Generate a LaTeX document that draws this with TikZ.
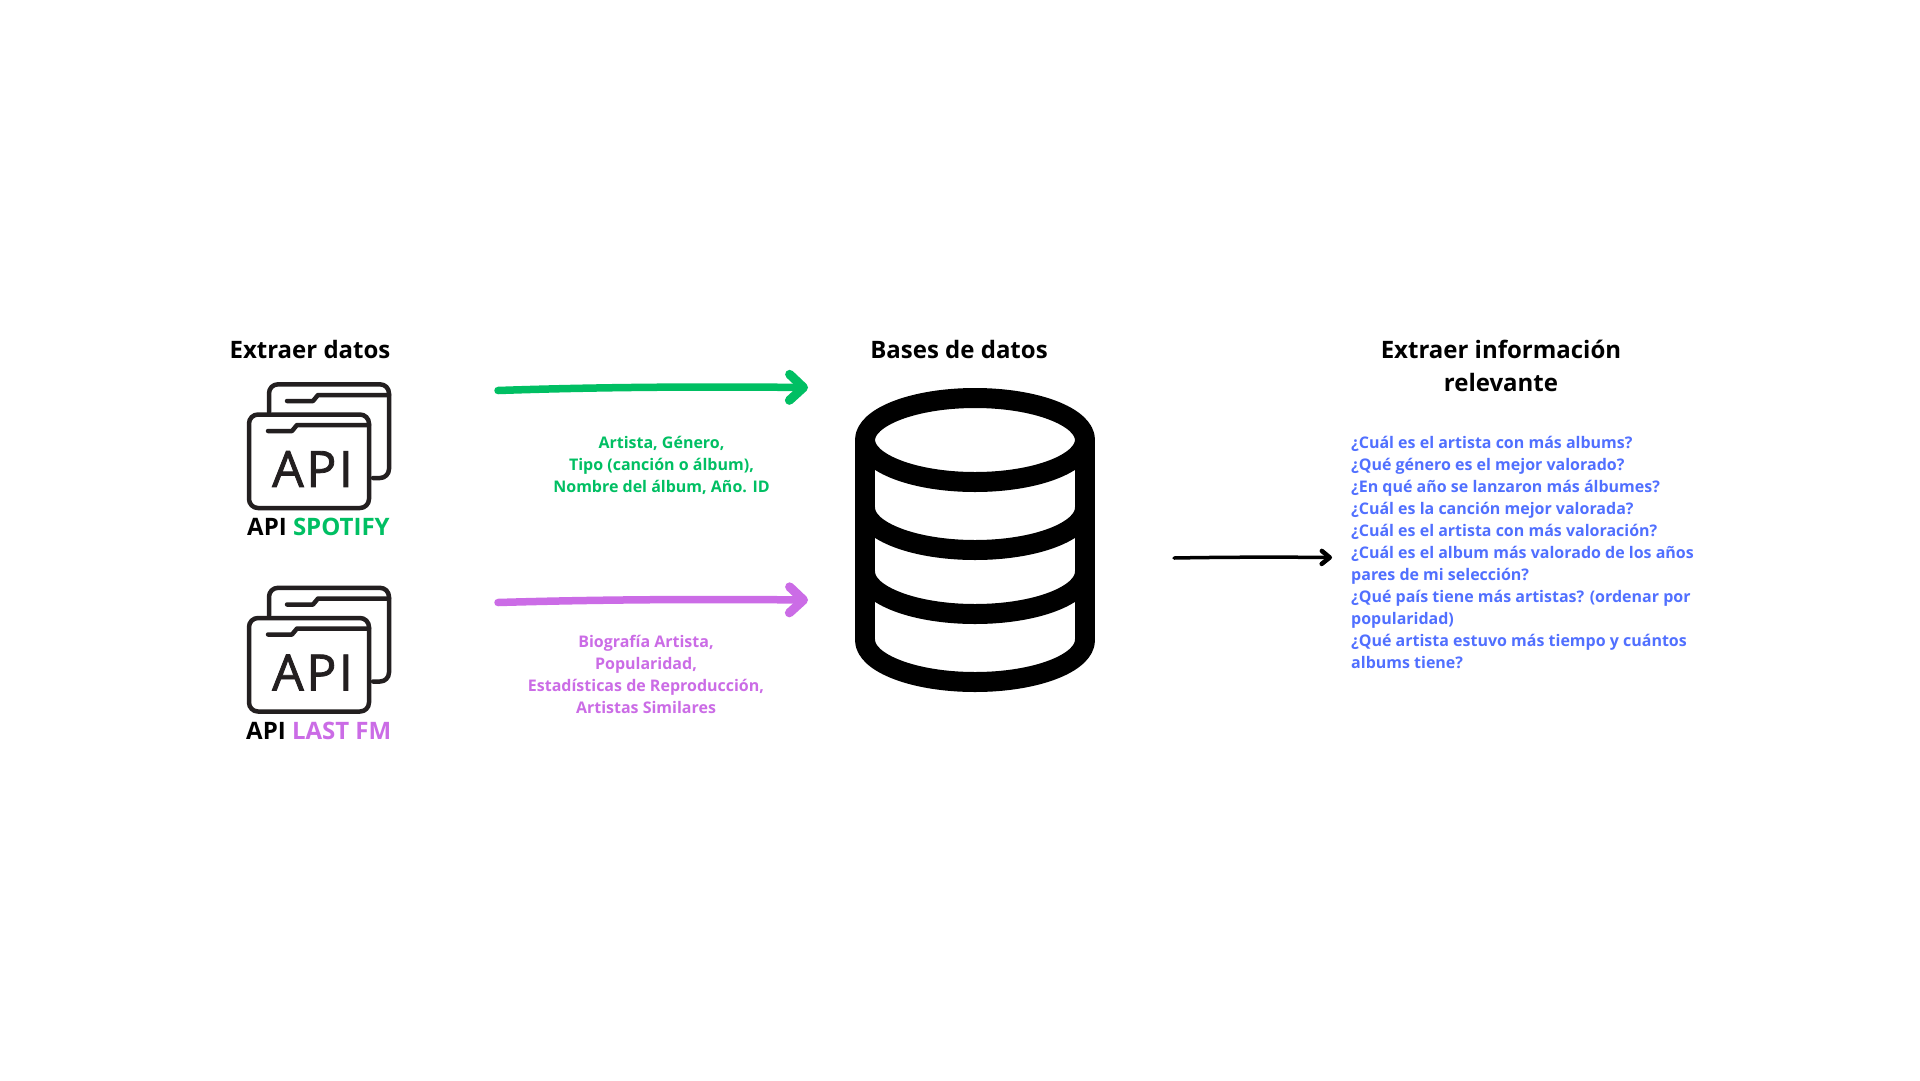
\documentclass[tikz,border=0pt]{standalone}
\usepackage{fontspec}
\setmainfont{Open Sans}
\newfontfamily\iconfont[LetterSpace=5,FakeBold=1.6]{Open Sans}
\usetikzlibrary{arrows.meta}
\definecolor{gr}{HTML}{00BF63}
\definecolor{pu}{HTML}{CB6CE6}
\definecolor{bl}{HTML}{5170FF}
\definecolor{ic}{HTML}{231F20}
\tikzset{
  title/.style={inner sep=0pt,align=center,font=\fontsize{24}{33}\selectfont\bfseries,text=black},
  small/.style={inner sep=0pt,font=\fontsize{16}{22}\selectfont\bfseries},
  iconline/.style={draw=ic,line width=4.5pt,line join=round,line cap=round},
  icontext/.style={inner sep=0pt,font=\iconfont\fontsize{50}{50}\selectfont,text=ic},
  dbline/.style={draw=black,line width=20pt,line join=round},
  bigarrow/.style={line width=7.5pt,line cap=round,-{Straight Barb[length=14pt,width=26pt,line width=9pt,round]}},
  thinarrow/.style={draw=black,line width=3.5pt,line cap=round,-{Straight Barb[length=8pt,width=13pt,line width=4.5pt,round]}}
}
\newcommand{\apifolder}[1]{%
  \begin{scope}[yshift=#1]
    \draw[iconline,rounded corners=9pt] (269,412) -- (269,384.3) -- (389,384.3) -- (389,478) -- (373,478);
    \draw[iconline] (287,401) -- (313,401) -- (318,395) -- (389,395);
    \draw[iconline,rounded corners=9pt] (249,414.5) rectangle (369,508);
    \draw[iconline] (268,431) -- (292,431) -- (297,425) -- (369,425);
  \end{scope}}
\begin{document}
\begin{tikzpicture}[x=1pt,y=-1pt]
\useasboundingbox (0,0) rectangle (1920,1080);
\fill[white] (0,0) rectangle (1920,1080);
% titles
\node[title] (t1) at (310,349) {Extraer datos};
\node[title] (t2) at (959,349) {Bases de datos};
\node[title] (t3) at (1501,366) {Extraer información\\relevante};
% API icons
\apifolder{0pt}
\apifolder{-203.5pt}
\node[icontext] (a1) at (312.5,469) {API};
\node[icontext] (a2) at (312.5,672.5) {API};
\node[title,anchor=base west] (l1) at (247,535) {API \textcolor{gr}{SPOTIFY}};
\node[title,anchor=base west] (l2) at (246,739) {API \textcolor{pu}{LAST FM}};
% database
\draw[dbline] (975,440) ellipse [x radius=110pt,y radius=42pt];
\draw[dbline] (865,440) -- (865,642);
\draw[dbline] (1085,440) -- (1085,642);
\draw[dbline] (865,508) arc[start angle=180,end angle=0,x radius=110pt,y radius=-42pt];
\draw[dbline] (865,572) arc[start angle=180,end angle=0,x radius=110pt,y radius=-42pt];
\draw[dbline] (865,640) arc[start angle=180,end angle=0,x radius=110pt,y radius=-42pt];
% arrows
\coordinate (g0) at (498,390.5);
\coordinate (g1) at (808,387.5);
\coordinate (p0) at (498,602.5);
\coordinate (p1) at (808,600);
\coordinate (k0) at (1174,558);
\coordinate (k1) at (1332,557.5);
\draw[bigarrow,draw=gr] (g0) .. controls (600,387) and (700,386.5) .. (g1);
\draw[bigarrow,draw=pu] (p0) .. controls (600,599.5) and (700,599) .. (p1);
\draw[thinarrow] (k0) .. controls (1230,557) and (1280,557) .. (k1);
% labels
\node[small,text=gr,align=center] (g) at (661.5,465) {Artista, Género,\\Tipo (canción o álbum),\\Nombre del álbum, Año. ID};
\node[small,text=pu,align=center] (p) at (646,674) {Biografía Artista,\\Popularidad,\\Estadísticas de Reproducción,\\Artistas Similares};
\node[small,text=bl,align=left,anchor=north west] (q) at (1351,436) {¿Cuál es el artista con más albums?\\¿Qué género es el mejor valorado?\\¿En qué año se lanzaron más álbumes?\\¿Cuál es la canción mejor valorada?\\¿Cuál es el artista con más valoración?\\¿Cuál es el album más valorado de los años\\pares de mi selección?\\¿Qué país tiene más artistas? (ordenar por\\popularidad)\\¿Qué artista estuvo más tiempo y cuántos\\albums tiene?};
\end{tikzpicture}
\end{document}
